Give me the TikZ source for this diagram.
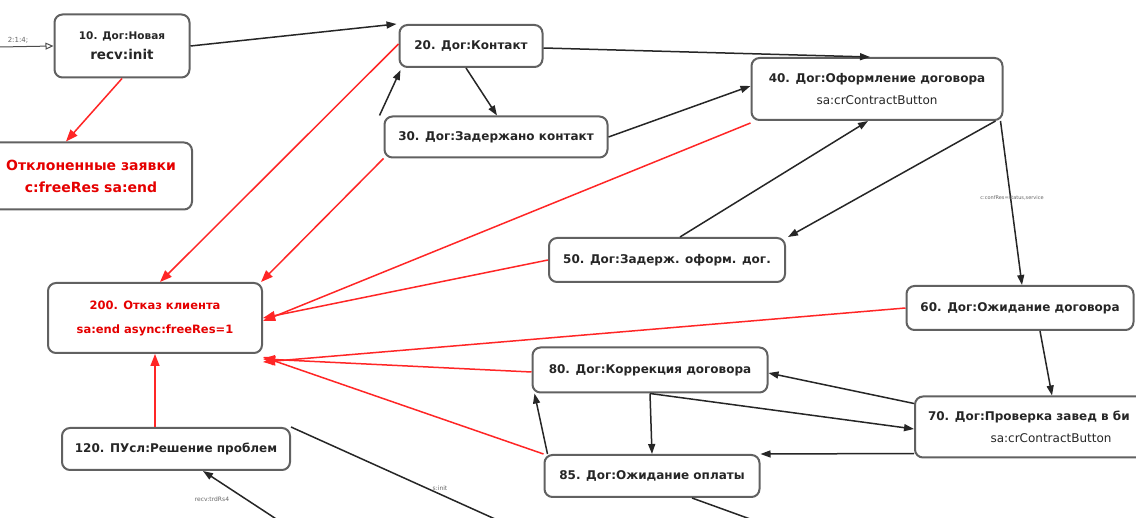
\documentclass[tikz,border=0pt]{standalone}
\usepackage{fontspec}
\setmainfont{DejaVu Sans}
\usetikzlibrary{arrows.meta}
\begin{document}
\begin{tikzpicture}[x=1pt,y=-1pt,
  box/.style={draw=black!62, line width=2pt, rounded corners=8pt, fill=white,
    align=center, inner sep=2pt, font=\fontsize{12}{22}\selectfont\bfseries, text=black!85},
  redtxt/.style={text=red!90!black},
  blk/.style={draw=black!85, line width=1.5pt, -{Triangle[length=10pt,width=7pt]}},
  redl/.style={draw=red!85, line width=1.5pt, -{Triangle[length=12pt,width=9pt]}},
  lbl/.style={font=\fontsize{5}{6}\selectfont, text=black!60}]
\useasboundingbox (0,0) rectangle (1136,518);
\clip (0,0) rectangle (1136,518);
\fill[white] (0,0) rectangle (1136,518);
% nodes
\node[box, minimum width=135, minimum height=63, font=\fontsize{10.5}{20}\selectfont\bfseries] (n10) at (122,46) {10. Дог:Новая\\{\fontsize{13.5}{20}\selectfont recv:init}};
\node[box, minimum width=202, minimum height=67, font=\fontsize{14}{22}\selectfont\bfseries, redtxt] (rej) at (91,176) {Отклоненные заявки\\c:freeRes sa:end};
\node[box, minimum width=143, minimum height=42] (n20) at (471,46) {20. Дог:Контакт};
\node[box, minimum width=223, minimum height=41] (n30) at (496,137) {30. Дог:Задержано контакт};
\node[box, minimum width=251, minimum height=62] (n40) at (877,89) {40. Дог:Оформление договора\\\mdseries sa:crContractButton};
\node[box, minimum width=236, minimum height=44] (n50) at (667,260) {50. Дог:Задерж. оформ. дог.};
\node[box, minimum width=227, minimum height=44] (n60) at (1020,308) {60. Дог:Ожидание договора};
\node[box, minimum width=214, minimum height=70, font=\fontsize{11.5}{24}\selectfont\bfseries, redtxt] (n200) at (155,318) {200. Отказ клиента\\sa:end async:freeRes=1};
\node[box, minimum width=235, minimum height=45] (n80) at (650,370) {80. Дог:Коррекция договора};
\node[box, minimum width=272, minimum height=61] (n70) at (1051,427) {\makebox[246pt][l]{70. Дог:Проверка завед в би}\\\mdseries sa:crContractButton};
\node[box, minimum width=215, minimum height=42] (n85) at (652,476) {85. Дог:Ожидание оплаты};
\node[box, minimum width=228, minimum height=42] (n120) at (176,449) {120. ПУсл:Решение проблем};
% free ends
\coordinate (st) at (0,47);
\coordinate (o85) at (775,528);
\coordinate (o120) at (515,528);
\coordinate (i120) at (290,528);
% start
\draw[draw=black!70, line width=1pt, -{Triangle[open,length=8pt,width=7pt]}] (st) -- (n10.west);
\node[lbl, font=\fontsize{7}{8}\selectfont] (stl) at (18,40) {2:1:4;};
% black edges
\draw[blk] (n10.east) -- ([xshift=-2]n20.north west);
\draw[blk] ([yshift=-2]n20.east) -- ([xshift=-7]n40.north);
\draw[blk] ([xshift=-5]n20.south) -- ([xshift=1]n30.north);
\draw[blk] ([xshift=-4]n30.north west) -- ([xshift=2,yshift=-2]n20.south west);
\draw[blk] (n30.east) -- ([yshift=3]n40.west);
\draw[blk] ([xshift=13]n50.north) -- ([xshift=-9]n40.south);
\draw[blk] ([xshift=-8]n40.south east) -- ([xshift=2]n50.north east);
\draw[blk] ([xshift=-3]n40.south east) -- ([xshift=2]n60.north);
\node[lbl] (lbl1) at (1012,198) {c:confRes=status,service};
\draw[blk] ([xshift=20]n60.south) -- ([xshift=1]n70.north);
\draw[blk] ([yshift=-8]n70.north west) -- ([yshift=-3]n80.east);
\draw[blk] (n80.south) -- ([yshift=-2]n70.west);
\draw[blk] (n80.south) -- (n85.north);
\draw[blk] ([xshift=4]n85.north west) -- ([xshift=3]n80.south west);
\draw[blk] ([yshift=5]n70.south west) -- (n85.north east);
\draw[draw=black!85, line width=1.5pt] ([xshift=40]n85.south) -- (o85);
\draw[draw=black!85, line width=1.5pt] (n120.north east) -- (o120);
\node[lbl, font=\fontsize{6}{7}\selectfont] (lbl2) at (440,488) {s:init};
\draw[blk] (i120) -- ([xshift=27]n120.south);
\node[lbl, font=\fontsize{6}{7}\selectfont] (lbl3) at (212,499) {recv:trdRs4};
% red edges
\draw[redl] (n10.south) -- ([xshift=-25]rej.north);
\draw[redl] ([yshift=2]n20.west) -- ([xshift=5]n200.north);
\draw[redl] (n30.south west) -- ([xshift=-2]n200.north east);
\draw[redl] ([yshift=-2]n40.south west) -- ([yshift=-3]n200.east);
\draw[redl] (n50.west) -- (n200.east);
\draw[redl] (n60.west) -- ([yshift=-8]n200.south east);
\draw[redl] ([yshift=-2]n80.west) -- ([yshift=-5]n200.south east);
\draw[redl] (n85.north west) -- ([yshift=-3]n200.south east);
\draw[redl] ([xshift=-21]n120.north) -- (n200.south);
\end{tikzpicture}
\end{document}
